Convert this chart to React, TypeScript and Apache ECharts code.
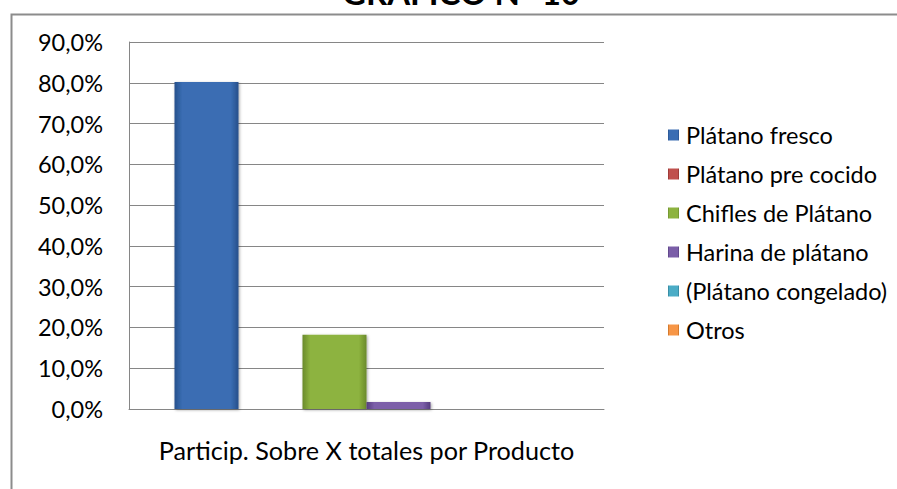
import React, { useEffect, useRef } from "react";
import * as echarts from "echarts";

const categories = ["Particip. Sobre X totales por Producto"];
const seriesNames = [
  "Plátano fresco",
  "Plátano pre cocido",
  "Chifles de Plátano",
  "Harina de plátano",
  "(Plátano congelado)",
  "Otros",
];
const seriesValues = [80.2, 0, 18.2, 1.7, 0, 0];
const yTicks = { min: 0, max: 90, interval: 10 };
const titleText = "GRÁFICO N° 10";

const palette = [
  ["#27508c", "#3a6db3", "#3a6db3", "#274f8a"],
  ["#8c2f2c", "#c0504d", "#c0504d", "#8c2f2c"],
  ["#6a8a2c", "#8db33f", "#8db33f", "#6a8a2c"],
  ["#553d7e", "#7b5ea8", "#7b5ea8", "#553d7e"],
  ["#2f7d93", "#4bacc6", "#4bacc6", "#2f7d93"],
  ["#c06a1f", "#f79646", "#f79646", "#c06a1f"],
];

function grad(c: string[]) {
  return new echarts.graphic.LinearGradient(0, 0, 1, 0, [
    { offset: 0, color: c[0] },
    { offset: 0.12, color: c[1] },
    { offset: 0.88, color: c[2] },
    { offset: 1, color: c[3] },
  ]);
}

const FONT = "Lato";

export default function App() {
  const ref = useRef<HTMLDivElement>(null);
  useEffect(() => {
    if (!ref.current) return;
    const chart = echarts.init(ref.current, undefined, { renderer: "svg" });
    chart.setOption({
      animation: false,
      backgroundColor: "#ffffff",
      textStyle: { fontFamily: FONT },
      graphic: [
        {
          type: "rect",
          left: 9,
          top: 12,
          shape: { x: 0, y: 0, width: 2000, height: 2000 },
          style: { fill: "none", stroke: "#8c8c8c", lineWidth: 2 },
          silent: true,
        },
        {
          type: "text",
          x: 461,
          y: -8,
          style: {
            text: titleText,
            fontFamily: FONT,
            fontWeight: "bold",
            fontSize: 33,
            fill: "#000",
            align: "center",
            verticalAlign: "middle",
          },
        },
      ],
      grid: { left: 129, right: 293, top: 42, bottom: 80, containLabel: false },
      legend: {
        orient: "vertical",
        left: 663,
        top: 118,
        itemWidth: 11,
        itemHeight: 11,
        itemGap: 15,
        icon: "rect",
        data: seriesNames,
        textStyle: { fontFamily: FONT, fontSize: 23.5, color: "#000", padding: [0, 0, 0, 2] },
      },
      xAxis: {
        type: "category",
        data: categories,
        axisLine: { show: true, lineStyle: { color: "#868686", width: 1 } },
        axisTick: { show: false },
        axisLabel: { fontFamily: FONT, fontSize: 25.2, color: "#000", margin: 28 },
      },
      yAxis: {
        type: "value",
        min: yTicks.min,
        max: yTicks.max,
        interval: yTicks.interval,
        axisLine: { show: true, lineStyle: { color: "#868686", width: 1 } },
        axisTick: { show: false },
        splitLine: { show: true, lineStyle: { color: "#868686", width: 1 } },
        axisLabel: {
          fontFamily: FONT,
          fontSize: 23.5,
          color: "#000",
          margin: 26,
          formatter: (v: number) => v.toFixed(1).replace(".", ",") + "%",
        },
      },
      series: seriesNames.map((name, i) => ({
        name,
        type: "bar",
        barWidth: 64,
        barGap: "0%",
        data: [seriesValues[i]],
        itemStyle: {
          color: grad(palette[i]),
          shadowBlur: 3,
          shadowColor: "rgba(0,0,0,0.35)",
          shadowOffsetX: 1,
          shadowOffsetY: 1,
        },
      })),
    });
    return () => chart.dispose();
  }, []);
  return (
    <div
      ref={ref}
      style={{ position: "absolute", left: 0, top: 0, width: 897, height: 489, background: "#fff" }}
    />
  );
}
